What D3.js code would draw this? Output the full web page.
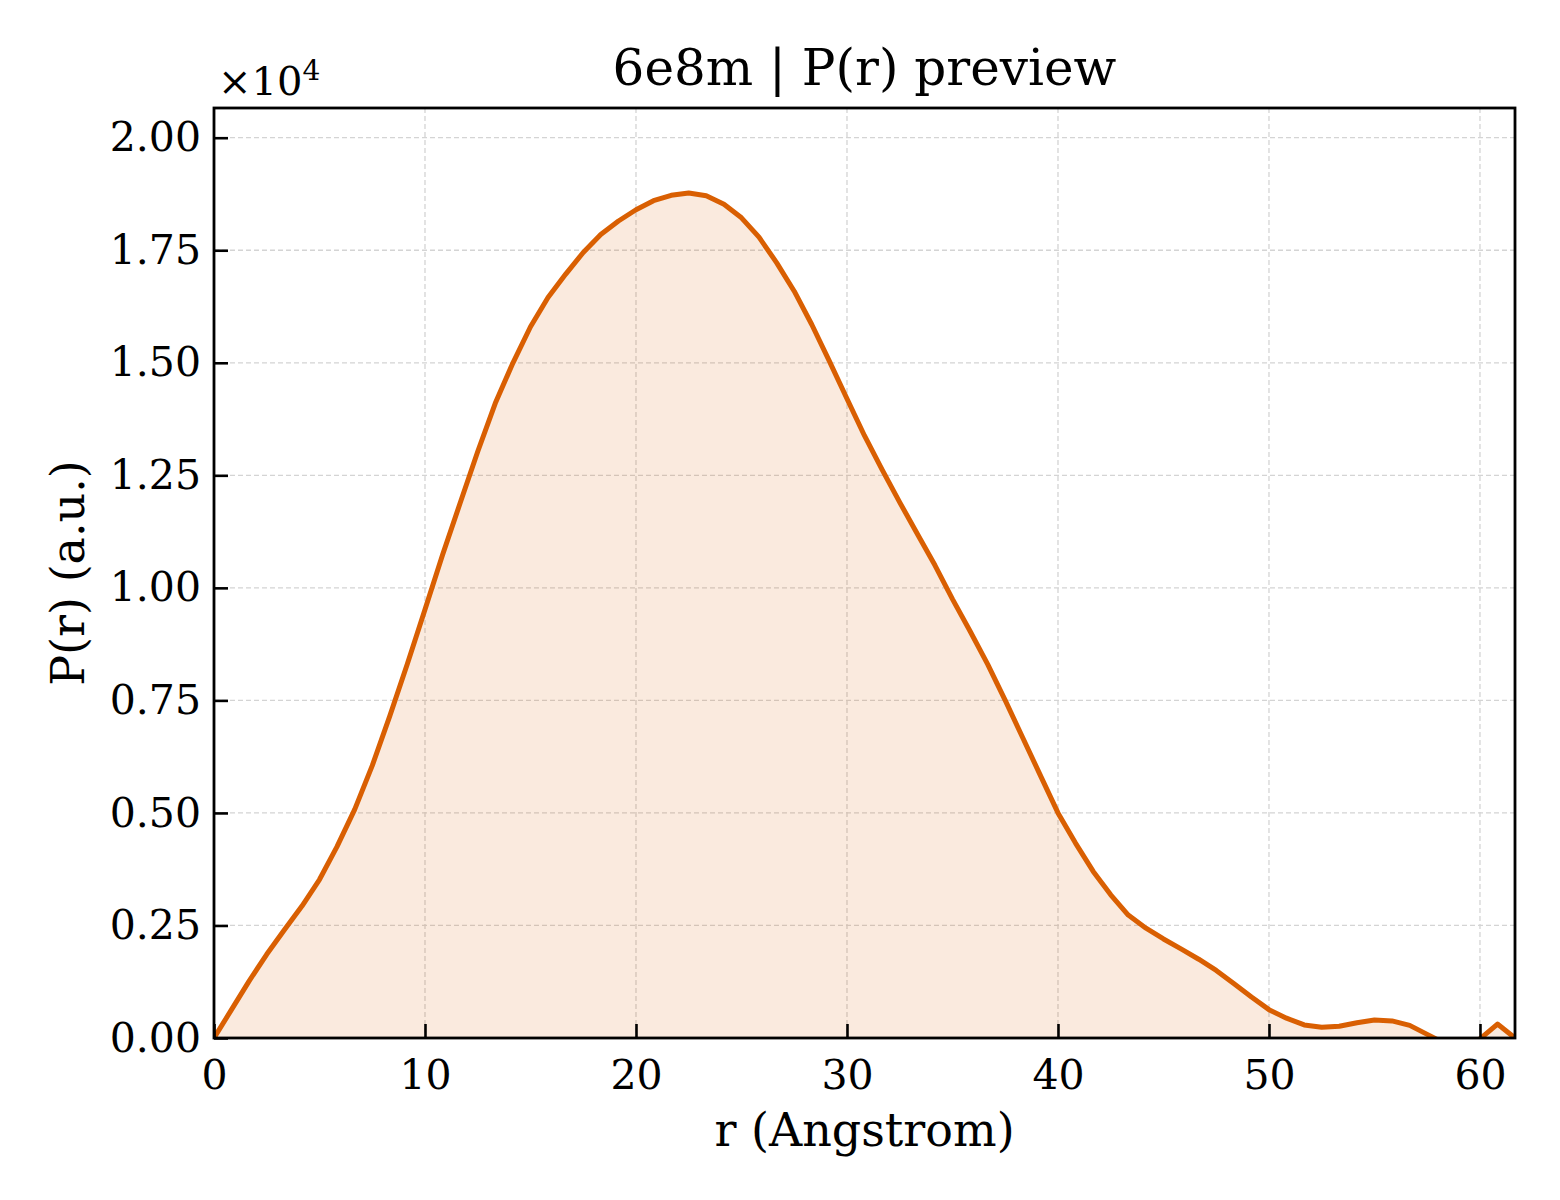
<!DOCTYPE html>
<html>
<head>
<meta charset="utf-8">
<script src="https://cdn.jsdelivr.net/npm/d3@7"></script>
<style>
    body { margin: 0; background: #fff; }
    text { font-family: "DejaVu Serif", serif; fill: #000; }
</style>
</head>
<body>
<svg id="svgId"></svg>
<script>

// r in Angstrom
var rValues = [0, 0.83, 1.67, 2.50, 3.33, 4.17, 5.00, 5.83, 6.67, 7.50,
    8.33, 9.17, 10.00, 10.83, 11.67, 12.50, 13.33, 14.17, 15.00, 15.83,
    16.67, 17.50, 18.33, 19.17, 20.00, 20.83, 21.67, 22.50, 23.33, 24.17,
    25.00, 25.83, 26.67, 27.50, 28.33, 29.17, 30.00, 30.83, 31.67, 32.50,
    33.33, 34.17, 35.00, 35.83, 36.67, 37.50, 38.33, 39.17, 40.00, 40.83,
    41.67, 42.50, 43.33, 44.17, 45.00, 45.83, 46.67, 47.50, 48.33, 49.17,
    50.00, 50.83, 51.67, 52.50, 53.33, 54.17, 55.00, 55.83, 56.67, 57.50,
    58.33, 59.17, 60.00, 60.83, 61.66];

// P(r), a.u.
var prValues = [0, 630, 1270, 1860, 2400, 2930, 3520, 4250, 5080, 6050,
    7150, 8320, 9520, 10730, 11890, 13030, 14100, 15000, 15800, 16450,
    16970, 17450, 17850, 18150, 18400, 18600, 18720, 18770, 18710, 18520,
    18220, 17790, 17220, 16590, 15850, 15030, 14200, 13380, 12620, 11900,
    11200, 10500, 9750, 9040, 8300, 7500, 6670, 5830, 5000, 4330,
    3700, 3180, 2730, 2440, 2200, 1980, 1750, 1500, 1210, 910,
    630, 440, 290, 240, 260, 340, 400, 380, 280, 80,
    -120, -180, -20, 310, 0];

var xTicks = [0, 10, 20, 30, 40, 50, 60];
var yTicks = [0, 2500, 5000, 7500, 10000, 12500, 15000, 17500, 20000];

var titleText = "6e8m | P(r) preview";
var xLabelText = "r (Angstrom)";
var yLabelText = "P(r) (a.u.)";

function drawChart() {

    var svgWidth = 1560, svgHeight = 1200;
    var margin = { top: 108, right: 45, bottom: 162, left: 214 };
    var width = svgWidth - margin.left - margin.right;
    var height = svgHeight - margin.top - margin.bottom;

    var data = rValues.map(function (r, i) { return { r: r, p: prValues[i] }; });

    var svg = d3.select("#svgId")
        .attr("width", svgWidth)
        .attr("height", svgHeight);

    var g = svg.append("g")
        .attr("transform", "translate(" + margin.left + "," + margin.top + ")");

    var x = d3.scaleLinear().domain([0, 61.66]).range([0, width]);
    var y = d3.scaleLinear().domain([0, 20660]).range([height, 0]);

    g.append("clipPath").attr("id", "clip")
        .append("rect").attr("width", width).attr("height", height);

    // grid
    g.append("g").selectAll("line").data(xTicks).enter().append("line")
        .attr("x1", function (d) { return x(d); })
        .attr("x2", function (d) { return x(d); })
        .attr("y1", 0).attr("y2", height)
        .attr("stroke", "#d4d4d4").attr("stroke-width", 1.3)
        .attr("stroke-dasharray", "5,3");
    g.append("g").selectAll("line").data(yTicks).enter().append("line")
        .attr("y1", function (d) { return y(d); })
        .attr("y2", function (d) { return y(d); })
        .attr("x1", 0).attr("x2", width)
        .attr("stroke", "#d4d4d4").attr("stroke-width", 1.3)
        .attr("stroke-dasharray", "5,3");

    // fill + curve
    var area = d3.area()
        .x(function (d) { return x(d.r); })
        .y0(y(0))
        .y1(function (d) { return y(d.p); });
    var line = d3.line()
        .x(function (d) { return x(d.r); })
        .y(function (d) { return y(d.p); });

    g.append("path").datum(data)
        .attr("clip-path", "url(#clip)")
        .attr("fill", "#d95f02").attr("fill-opacity", 0.13)
        .attr("d", area);
    g.append("path").datum(data)
        .attr("clip-path", "url(#clip)")
        .attr("fill", "none")
        .attr("stroke", "#d95f02")
        .attr("stroke-width", 5)
        .attr("stroke-linejoin", "round")
        .attr("d", line);

    // axes, ticks pointing inward
    var xAxis = g.append("g")
        .attr("transform", "translate(0," + height + ")")
        .call(d3.axisBottom(x).tickValues(xTicks).tickSizeInner(-14).tickSizeOuter(0).tickPadding(22));
    var yAxis = g.append("g")
        .call(d3.axisLeft(y).tickValues(yTicks).tickSizeInner(-14).tickSizeOuter(0).tickPadding(13)
            .tickFormat(function (d) { return (d / 10000).toFixed(2); }));

    [xAxis, yAxis].forEach(function (a) {
        a.select(".domain").remove();
        a.selectAll(".tick line").attr("stroke", "#000").attr("stroke-width", 2.6);
        a.selectAll(".tick text")
            .style("font-family", "'DejaVu Serif', serif")
            .style("font-size", "41px").attr("fill", "#000");
    });
    xAxis.selectAll(".tick text").attr("dy", "0.71em");

    // frame
    g.append("rect")
        .attr("width", width).attr("height", height)
        .attr("fill", "none").attr("stroke", "#000").attr("stroke-width", 2.8);

    // offset label
    var off = g.append("text")
        .attr("x", 4).attr("y", -13)
        .style("font-size", "40px");
    off.append("tspan").text("\u00d710");
    off.append("tspan").attr("dy", -15).style("font-size", "28px").text("4");

    // title and axis labels
    svg.append("text")
        .attr("x", margin.left + width / 2).attr("y", 85)
        .attr("text-anchor", "middle")
        .style("font-size", "50px")
        .text(titleText);
    svg.append("text")
        .attr("x", margin.left + width / 2).attr("y", 1146)
        .attr("text-anchor", "middle")
        .style("font-size", "46px")
        .text(xLabelText);
    svg.append("text")
        .attr("transform", "translate(84," + (margin.top + height / 2) + ") rotate(-90)")
        .attr("text-anchor", "middle")
        .style("font-size", "46px")
        .text(yLabelText);
}

drawChart();
</script>
</body>
</html>
